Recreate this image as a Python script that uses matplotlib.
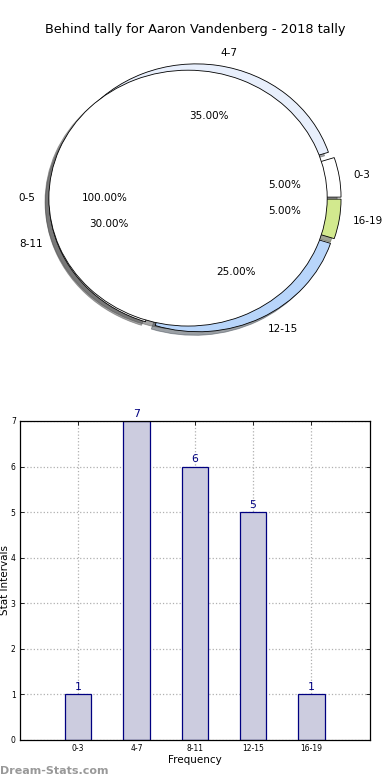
import matplotlib
matplotlib.use('Agg')
import matplotlib.pyplot as plt

# Pie data
PIE_LABELS = ['0-3', '4-7', '8-11', '12-15', '16-19']
PIE_VALUES = [5, 35, 30, 25, 5]
PIE_COLORS = ['#ffffff', '#e8effc', '#ffffff', '#b8d5fa', '#d2e98e']
BASE_LABEL = ['0-5']
BASE_VALUE = [100]

# Bar data
BAR_LABELS = ['0-3', '4-7', '8-11', '12-15', '16-19']
BAR_VALUES = [1, 7, 6, 5, 1]
Y_TICKS = [0, 1, 2, 3, 4, 5, 6, 7]

TITLE = 'Behind tally for Aaron Vandenberg - 2018 tally'

fig = plt.figure(figsize=(3.9, 7.8), dpi=100)
fig.patch.set_facecolor('white')

# ---- pie chart ----
ax1 = fig.add_axes([0.054, 0.541, 0.892, 0.410])
ax1.pie(PIE_VALUES, labels=PIE_LABELS, colors=PIE_COLORS,
        explode=[0.05] * len(PIE_VALUES), autopct='%1.2f%%',
        shadow=True, startangle=0, pctdistance=0.6, labeldistance=1.1,
        wedgeprops={'edgecolor': 'black', 'linewidth': 0.6},
        textprops={'fontsize': 7.5})
ax1.pie(BASE_VALUE, labels=BASE_LABEL, colors=['#ffffff'],
        explode=[0.05], autopct='%1.2f%%', shadow=True, startangle=0,
        pctdistance=0.6, labeldistance=1.1,
        wedgeprops={'edgecolor': 'black', 'linewidth': 0.6},
        textprops={'fontsize': 7.5})
ax1.set_aspect('auto')
ax1.set_xlim(-1.25, 1.25)
ax1.set_ylim(-1.25, 1.25)
fig.text(0.5, 0.962, TITLE, ha='center', va='center', fontsize=9.3)

# ---- bar chart ----
ax2 = fig.add_axes([0.051, 0.0513, 0.897, 0.409])
x = list(range(len(BAR_LABELS)))
bars = ax2.bar(x, BAR_VALUES, width=0.45, color='#ccccdf',
               edgecolor='#000080', linewidth=0.9, zorder=2)
for b, v in zip(bars, BAR_VALUES):
    ax2.text(b.get_x() + b.get_width() / 2, v + 0.05, str(v),
             ha='center', va='bottom', fontsize=7.8, color='#000080')

ax2.set_xlim(-1, 5)
ax2.set_ylim(0, 7)
ax2.set_xticks(x)
ax2.set_xticklabels(BAR_LABELS, fontsize=5.5)
ax2.set_yticks(Y_TICKS)
ax2.set_yticklabels([str(t) for t in Y_TICKS], fontsize=5.5)
ax2.tick_params(direction='in', top=True, right=True, length=3, width=0.6, pad=3)
ax2.grid(True, color='#b0b0b0', linestyle=':', linewidth=0.9, zorder=0)
ax2.set_axisbelow(True)
for s in ax2.spines.values():
    s.set_linewidth(0.9)
ax2.set_xlabel('Frequency', fontsize=7.5, labelpad=1)
ax2.set_ylabel('Stat Intervals', fontsize=7.5)
ax2.yaxis.set_label_coords(-0.029, 0.5)

fig.text(0.0, 0.005, 'Dream-Stats.com', ha='left', va='bottom',
         fontsize=8, color='#999999', fontweight='bold')

plt.savefig('out.png', dpi=100, facecolor='white')
plt.close()
